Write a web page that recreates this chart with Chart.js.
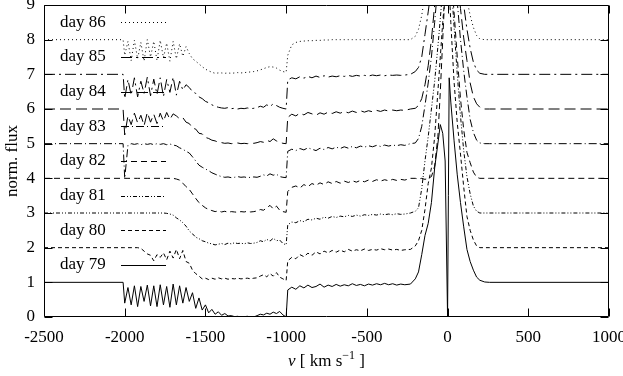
<!DOCTYPE html>
<html>
<head>
<meta charset="utf-8">
<script src="https://cdn.jsdelivr.net/npm/chart.js@4.4.1/dist/chart.umd.min.js"></script>
<style>
  html, body { margin: 0; padding: 0; background: #fff; }
  #wrap { width: 623px; height: 376px; }
</style>
</head>
<body>
<div id="wrap"><canvas id="spectra" width="623" height="376"></canvas></div>
<script>
// velocity grid, km/s (shared by all spectra)
const velocity = [-2500, -2010,
  -2000, -1980, -1960, -1940, -1920, -1900, -1880, -1860, -1840, -1820,
  -1800, -1780, -1760, -1740, -1720, -1700, -1680, -1660, -1640, -1620,
  -1600, -1580, -1560, -1540, -1520, -1500, -1480, -1460, -1440, -1420,
  -1400, -1380, -1360, -1340, -1320, -1300, -1280, -1260, -1240, -1220,
  -1200, -1180, -1160, -1140, -1120, -1100, -1080, -1060, -1040, -1020,
  -1000,
  -990, -965, -940, -915, -890, -865, -840, -815, -790, -765,
  -740, -715, -690, -665, -640, -615, -590, -565, -540, -515,
  -490, -465, -440, -415, -390, -365, -340, -315, -290, -265,
  -230, -200, -180, -160, -140, -120, -100, -80, -60, -45,
  -30, -15, -5, 0, 5, 10, 20, 40, 60, 80,
  100, 120, 140, 160, 180, 200, 230, 260,
  1000];

// normalized flux of each night (before the vertical shift)
const day79 = [1, 1,
  0.40, 0.85, 0.35, 0.90, 0.30, 0.88, 0.45, 0.92, 0.32, 0.90,
  0.30, 0.93, 0.35, 0.88, 0.28, 0.95, 0.35, 0.90, 0.40, 0.85,
  0.45, 0.70, 0.25, 0.55, 0.20, 0.35, 0.12, 0.22, 0.08, 0.15,
  0.05, 0.10, 0.03, 0.04, 0.01, 0.02, 0.00, 0.01, 0.02, 0.00,
  0.00, 0.04, 0.08, 0.06, 0.11, 0.08, 0.14, 0.10, 0.16, 0.06,
  0.00,
  0.78, 0.86, 0.80, 0.90, 0.84, 0.92, 0.85, 0.88, 0.95, 0.86,
  0.92, 0.88, 0.94, 0.89, 0.93, 0.90, 0.96, 0.91, 0.94, 0.90,
  0.95, 0.92, 0.96, 0.93, 0.97, 0.93, 0.96, 0.92, 0.95, 0.93,
  0.95, 1.10, 1.30, 1.80, 2.35, 2.70, 3.30, 4.30, 5.00, 5.55,
  5.30, 4.50, 1.50, 0.00, 3.50, 6.90, 6.20, 5.10, 4.10, 3.30,
  2.60, 1.95, 1.60, 1.35, 1.15, 1.06, 1.01, 1.00,
  1.00];
const day80 = [1, 1,
  1.00, 1.00, 1.00, 1.00, 1.00, 0.98, 0.90, 0.82, 0.78, 0.62,
  0.80, 0.72, 0.85, 0.65, 0.90, 0.70, 0.95, 0.68, 0.92, 0.60,
  0.55, 0.35, 0.25, 0.18, 0.10, 0.12, 0.08, 0.12, 0.09, 0.13,
  0.10, 0.12, 0.09, 0.11, 0.10, 0.12, 0.10, 0.11, 0.12, 0.10,
  0.12, 0.13, 0.18, 0.22, 0.16, 0.25, 0.18, 0.28, 0.15, 0.10,
  0.05,
  0.62, 0.72, 0.68, 0.80, 0.74, 0.84, 0.78, 0.88, 0.82, 0.90,
  0.85, 0.92, 0.87, 0.93, 0.88, 0.95, 0.90, 0.94, 0.91, 0.96,
  0.92, 0.95, 0.93, 0.97, 0.94, 0.96, 0.93, 0.95, 0.92, 0.94,
  0.95, 1.05, 1.20, 1.50, 2.10, 2.85, 3.30, 4.20, 5.50, 6.50,
  7.50, 8.30, 8.80, 9.00, 8.80, 8.50, 7.50, 5.80, 4.60, 3.70,
  2.75, 1.90, 1.50, 1.22, 1.05, 1.00, 1.00, 1.00,
  1.00];
const day81 = [1, 1,
  1.00, 1.00, 1.00, 1.00, 1.00, 1.00, 1.00, 1.00, 1.00, 1.00,
  1.00, 1.00, 1.00, 0.99, 0.97, 0.94, 0.86, 0.80, 0.72, 0.62,
  0.48, 0.40, 0.30, 0.26, 0.20, 0.17, 0.13, 0.11, 0.08, 0.10,
  0.12, 0.09, 0.13, 0.11, 0.14, 0.12, 0.13, 0.11, 0.14, 0.12,
  0.13, 0.15, 0.20, 0.17, 0.24, 0.19, 0.27, 0.20, 0.22, 0.12,
  0.08,
  0.66, 0.74, 0.72, 0.78, 0.75, 0.82, 0.80, 0.85, 0.82, 0.88,
  0.85, 0.90, 0.87, 0.91, 0.89, 0.93, 0.90, 0.94, 0.91, 0.95,
  0.93, 0.96, 0.94, 0.97, 0.95, 0.97, 0.95, 0.98, 0.96, 0.97,
  1.00, 1.05, 1.15, 1.70, 2.50, 3.20, 4.00, 4.80, 5.80, 6.60,
  7.50, 8.30, 8.80, 9.00, 8.90, 8.70, 7.80, 6.40, 5.00, 3.80,
  2.80, 2.05, 1.55, 1.20, 1.05, 1.00, 1.00, 1.00,
  1.00];
const day82 = [1, 1,
  1.00, 1.00, 1.00, 1.00, 1.00, 1.00, 1.00, 1.00, 1.00, 1.00,
  1.00, 1.00, 1.00, 1.00, 1.00, 1.00, 0.98, 0.95, 0.86, 0.76,
  0.68, 0.55, 0.42, 0.30, 0.22, 0.15, 0.10, 0.07, 0.04, 0.06,
  0.03, 0.05, 0.02, 0.04, 0.03, 0.02, 0.04, 0.03, 0.05, 0.03,
  0.04, 0.06, 0.10, 0.08, 0.15, 0.22, 0.12, 0.20, 0.08, 0.04,
  0.02,
  0.62, 0.74, 0.78, 0.72, 0.82, 0.76, 0.85, 0.80, 0.87, 0.82,
  0.90, 0.85, 0.91, 0.86, 0.92, 0.88, 0.93, 0.89, 0.94, 0.90,
  0.95, 0.91, 0.96, 0.92, 0.96, 0.93, 0.97, 0.94, 0.97, 0.95,
  1.00, 1.00, 0.98, 1.00, 0.97, 1.00, 1.05, 1.35, 2.20, 3.50,
  5.00, 6.50, 7.40, 8.00, 7.90, 7.70, 7.00, 5.80, 4.50, 3.30,
  2.40, 1.75, 1.45, 1.18, 1.03, 1.00, 1.00, 1.00,
  1.00];
const day83 = [1, 1,
  0.00, 0.95, 1.00, 0.98, 1.00, 0.97, 1.00, 0.98, 1.00, 0.97,
  1.00, 0.98, 1.00, 0.97, 0.99, 0.96, 0.94, 0.88, 0.84, 0.78,
  0.73, 0.62, 0.50, 0.38, 0.32, 0.27, 0.22, 0.16, 0.12, 0.08,
  0.05, 0.03, 0.04, 0.02, 0.03, 0.05, 0.03, 0.04, 0.02, 0.03,
  0.04, 0.03, 0.06, 0.10, 0.07, 0.13, 0.09, 0.12, 0.05, 0.03,
  0.02,
  0.78, 0.84, 0.80, 0.86, 0.82, 0.88, 0.84, 0.80, 0.87, 0.83,
  0.89, 0.85, 0.90, 0.86, 0.91, 0.87, 0.92, 0.88, 0.93, 0.90,
  0.94, 0.91, 0.95, 0.92, 0.96, 0.93, 0.96, 0.94, 0.97, 0.95,
  1.00, 1.02, 1.15, 1.50, 2.10, 2.75, 3.50, 4.50, 5.60, 6.40,
  7.20, 7.80, 8.20, 8.40, 8.30, 8.10, 7.60, 6.40, 5.10, 4.00,
  3.10, 2.35, 1.70, 1.32, 1.10, 1.02, 1.00, 1.00,
  1.00];
const day84 = [1, 1,
  0.25, 0.80, 0.55, 0.88, 0.60, 0.82, 0.52, 0.90, 0.62, 0.85,
  0.58, 0.88, 0.65, 0.90, 0.70, 0.86, 0.80, 0.72, 0.75, 0.62,
  0.58, 0.45, 0.42, 0.30, 0.28, 0.18, 0.15, 0.10, 0.08, 0.04,
  0.03, 0.01, 0.02, 0.00, 0.01, 0.02, 0.00, 0.01, 0.00, 0.02,
  0.01, 0.03, 0.06, 0.04, 0.10, 0.06, 0.14, 0.08, 0.04, 0.01,
  0.00,
  0.76, 0.85, 0.80, 0.88, 0.83, 0.90, 0.86, 0.82, 0.89, 0.85,
  0.91, 0.87, 0.92, 0.88, 0.93, 0.89, 0.94, 0.90, 0.95, 0.91,
  0.95, 0.92, 0.96, 0.93, 0.97, 0.94, 0.97, 0.95, 0.97, 0.96,
  1.00, 1.02, 1.10, 1.30, 1.70, 2.25, 3.00, 4.00, 5.00, 5.80,
  6.60, 7.30, 7.70, 7.90, 7.80, 7.60, 7.00, 5.90, 4.80, 3.90,
  3.05, 2.40, 1.75, 1.35, 1.15, 1.05, 1.00, 1.00,
  1.00];
const day85 = [1, 1,
  0.30, 0.85, 0.40, 0.90, 0.35, 0.80, 0.45, 0.92, 0.38, 0.86,
  0.42, 0.90, 0.36, 0.85, 0.48, 0.92, 0.40, 0.80, 0.55, 0.70,
  0.62, 0.50, 0.45, 0.35, 0.30, 0.22, 0.18, 0.12, 0.08, 0.05,
  0.03, 0.02, 0.04, 0.01, 0.02, 0.00, 0.02, 0.01, 0.03, 0.01,
  0.02, 0.04, 0.08, 0.05, 0.12, 0.07, 0.15, 0.10, 0.05, 0.02,
  0.00,
  0.84, 0.90, 0.87, 0.93, 0.89, 0.94, 0.90, 0.95, 0.91, 0.96,
  0.92, 0.95, 0.93, 0.96, 0.94, 0.97, 0.94, 0.97, 0.95, 0.97,
  0.95, 0.98, 0.96, 0.98, 0.96, 0.98, 0.97, 0.98, 0.97, 0.98,
  1.00, 1.08, 1.20, 1.50, 2.15, 2.80, 3.50, 4.30, 5.20, 5.90,
  6.60, 7.20, 7.50, 7.60, 7.50, 7.30, 6.80, 5.70, 4.60, 3.70,
  3.00, 2.30, 1.75, 1.35, 1.12, 1.03, 1.00, 1.00,
  1.00];
const day86 = [1, 1,
  0.55, 0.95, 0.40, 0.98, 0.45, 0.92, 0.38, 1.00, 0.50, 0.95,
  0.40, 0.98, 0.48, 0.90, 0.38, 0.95, 0.45, 0.88, 0.52, 0.80,
  0.60, 0.45, 0.38, 0.30, 0.22, 0.15, 0.10, 0.06, 0.03, 0.04,
  0.04, 0.03, 0.04, 0.03, 0.04, 0.05, 0.04, 0.05, 0.06, 0.07,
  0.08, 0.10, 0.13, 0.16, 0.20, 0.22, 0.21, 0.18, 0.12, 0.08,
  0.06,
  0.55, 0.85, 0.92, 0.95, 0.96, 0.97, 0.97, 0.98, 0.98, 0.99,
  0.99, 1.00, 1.00, 1.00, 1.00, 1.00, 1.00, 1.00, 1.00, 1.00,
  1.00, 1.00, 1.00, 1.00, 1.00, 1.00, 1.00, 1.00, 1.00, 1.00,
  1.00, 1.10, 1.30, 1.70, 2.30, 2.90, 3.60, 4.40, 5.20, 5.80,
  6.40, 6.90, 7.10, 7.20, 7.10, 6.90, 6.40, 5.40, 4.40, 3.50,
  2.80, 2.15, 1.70, 1.35, 1.12, 1.02, 1.00, 1.00,
  1.00];

const days = ['day 79', 'day 80', 'day 81', 'day 82', 'day 83', 'day 84', 'day 85', 'day 86'];
const fluxes = [day79, day80, day81, day82, day83, day84, day85, day86];
const offsets = [0, 1, 2, 3, 4, 5, 6, 7];
const dashes = [[], [4, 3], [4, 2, 1, 2, 1, 2], [6, 4], [8, 3, 1, 3], [11, 5], [11, 4, 2, 4], [1, 3]];

const xTicks = [-2500, -2000, -1500, -1000, -500, 0, 500, 1000];
const yTicks = [0, 1, 2, 3, 4, 5, 6, 7, 8, 9];

const FONT = '"Liberation Serif", "Times New Roman", serif';

const datasets = fluxes.map((f, k) => ({
  label: days[k],
  data: velocity.map((v, i) => ({ x: v, y: f[i] + offsets[k] })),
  borderColor: '#000',
  borderWidth: 1,
  borderDash: dashes[k],
  pointRadius: 0,
  tension: 0,
  fill: false
}));

// frame, inward ticks, key and axis titles
const decor = {
  id: 'decor',
  afterDatasetsDraw(chart) {
    const { ctx, chartArea: a, scales: { x, y } } = chart;
    const L = Math.round(a.left) + 0.5, R = Math.round(a.right) - 0.5;
    const T = Math.round(a.top) + 0.5, B = Math.round(a.bottom) - 0.5;
    ctx.save();
    ctx.strokeStyle = '#000';
    ctx.lineWidth = 1;
    ctx.setLineDash([]);
    ctx.beginPath();
    ctx.rect(L, T, R - L, B - T);
    xTicks.forEach(v => {
      const px = Math.round(x.getPixelForValue(v)) + 0.5;
      ctx.moveTo(px, B); ctx.lineTo(px, B - 8);
      ctx.moveTo(px, T); ctx.lineTo(px, T + 8);
    });
    yTicks.forEach(v => {
      const py = Math.round(y.getPixelForValue(v)) + 0.5;
      ctx.moveTo(L, py); ctx.lineTo(L + 8, py);
      ctx.moveTo(R, py); ctx.lineTo(R - 8, py);
    });
    ctx.stroke();

    // key
    ctx.fillStyle = '#000';
    ctx.font = '17px ' + FONT;
    ctx.textBaseline = 'middle';
    ctx.textAlign = 'left';
    days.forEach((d, k) => {
      const py = y.getPixelForValue(offsets[k] + 1.5);
      ctx.fillText(d, a.left + 16, py);
      ctx.beginPath();
      ctx.setLineDash(dashes[k]);
      ctx.moveTo(a.left + 77, Math.round(py) + 0.5);
      ctx.lineTo(a.left + 122, Math.round(py) + 0.5);
      ctx.stroke();
    });
    ctx.setLineDash([]);

    // x title: v [ km s^-1 ]
    const parts = [
      { t: 'v', f: 'italic 17px ' + FONT, dy: 0 },
      { t: ' [ km s', f: '17px ' + FONT, dy: 0 },
      { t: '\u22121', f: '12px ' + FONT, dy: -7 },
      { t: ' ]', f: '17px ' + FONT, dy: 0 }
    ];
    let w = 0;
    parts.forEach(p => { ctx.font = p.f; p.w = ctx.measureText(p.t).width; w += p.w; });
    let cx = (a.left + a.right) / 2 - w / 2;
    ctx.textBaseline = 'alphabetic';
    parts.forEach(p => { ctx.font = p.f; ctx.fillText(p.t, cx, 366 + p.dy); cx += p.w; });

    // y title
    ctx.font = '17px ' + FONT;
    ctx.textAlign = 'center';
    ctx.textBaseline = 'middle';
    ctx.translate(13, (a.top + a.bottom) / 2);
    ctx.rotate(-Math.PI / 2);
    ctx.fillText('norm. flux', 0, 0);
    ctx.restore();
  }
};

new Chart(document.getElementById('spectra'), {
  type: 'line',
  data: { datasets },
  options: {
    responsive: false,
    animation: false,
    parsing: false,
    layout: { padding: { left: 0, right: 14, top: 5, bottom: 0 } },
    plugins: { legend: { display: false }, tooltip: { enabled: false } },
    scales: {
      x: {
        type: 'linear',
        min: -2500,
        max: 1000,
        afterBuildTicks: s => { s.ticks = xTicks.map(v => ({ value: v })); },
        afterFit: s => { s.height = 59; s.paddingLeft = 0; s.paddingRight = 0; },
        grid: { display: false, drawTicks: false },
        border: { display: false },
        ticks: {
          callback: v => String(v),
          padding: 10,
          maxRotation: 0,
          autoSkip: false,
          color: '#000',
          font: { family: FONT, size: 17 }
        }
      },
      y: {
        min: 0,
        max: 9,
        afterBuildTicks: s => { s.ticks = yTicks.map(v => ({ value: v })); },
        afterFit: s => { s.width = 44; s.paddingTop = 0; s.paddingBottom = 0; },
        grid: { display: false, drawTicks: false },
        border: { display: false },
        ticks: {
          padding: 9,
          color: '#000',
          font: { family: FONT, size: 17 }
        }
      }
    }
  },
  plugins: [decor]
});
</script>
</body>
</html>
